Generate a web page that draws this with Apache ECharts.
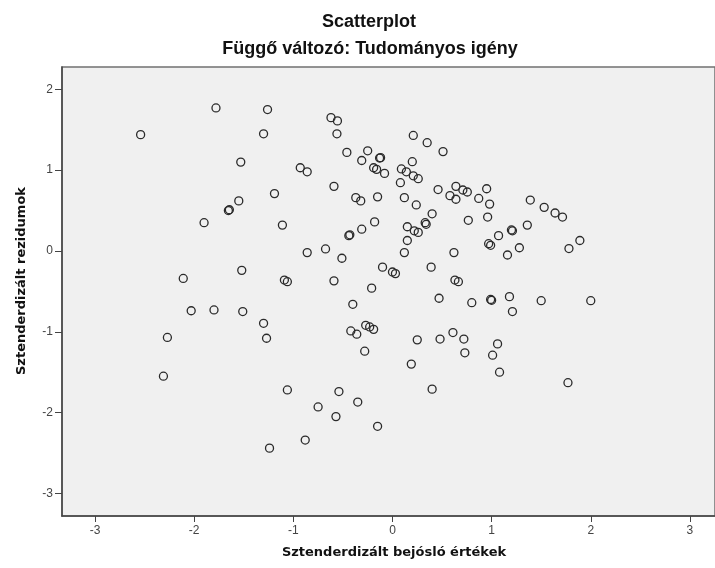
<!DOCTYPE html>
<html>
<head>
<meta charset="utf-8">
<script src="https://cdn.jsdelivr.net/npm/echarts@6/dist/echarts.min.js"></script>
<style>
html,body{margin:0;padding:0;background:#fff;}
#chart{width:715px;height:568px;}
</style>
</head>
<body>
<div id="chart"></div>
<script>
// Chart texts
var chartTitle = "Scatterplot";
var chartSubtitle = "Függő változó: Tudományos igény";
var xAxisName = "Sztenderdizált bejósló értékek";
var yAxisName = "Sztenderdizált rezidumok";

// Tick labels
var xTicks = [-3, -2, -1, 0, 1, 2, 3];
var yTicks = [-3, -2, -1, 0, 1, 2];

// Standardized predicted values (x)
var predicted = [
  -1.78, -1.26, -2.54, -1.30, -0.62, -0.555, -0.56, -0.46, -1.53, -0.93,
  -0.86, -0.59, -1.19, -1.55, -1.645, -1.655, -1.90, -1.11, -0.43, -0.44,
  -0.86, -0.675, -0.51, -2.11, -1.52, -1.09, -1.06, -0.59, 0.21, 0.35,
  0.51, -0.25, -0.31, -0.12, -0.13, 0.20, -0.19, -0.16, -0.08, 0.09,
  0.14, 0.21, 0.26, 0.08, 0.64, 0.46, 0.71, 0.755, 0.95, 0.58,
  0.64, 0.87, 0.98, 0.96, 1.39, 1.53, 1.64, 1.715, -0.37, -0.32,
  -0.15, 0.12, 0.24, 0.40, 0.765, -0.18, -0.31, 0.15, 0.22, 0.26,
  0.33, 0.34, 0.15, 0.12, 0.62, 1.07, 1.20, 1.21, 1.36, 0.97,
  0.99, 1.16, 1.28, 1.78, 1.89, -0.10, 0.00, 0.03, 0.39, -0.21,
  0.63, 0.665, 1.50, 2.00, 1.77, -2.03, -1.80, -1.51, -1.30, -1.27,
  -2.27, -2.31, -1.06, -0.54, -0.75, -0.57, -0.88, -1.24, -0.40, 0.47,
  0.80, 0.99, 1.00, 1.18, 1.21, -0.42, -0.36, -0.27, -0.23, -0.19,
  -0.28, 0.25, 0.48, 0.61, 0.72, 0.73, 1.06, 1.01, 1.08, 0.19,
  0.40, -0.35, -0.15
];

// Standardized residuals (y)
var residuals = [
  1.77, 1.75, 1.44, 1.45, 1.65, 1.61, 1.45, 1.22, 1.10, 1.03,
  0.98, 0.80, 0.71, 0.62, 0.51, 0.50, 0.35, 0.32, 0.20, 0.19,
  -0.02, 0.025, -0.09, -0.34, -0.24, -0.36, -0.38, -0.37, 1.43, 1.34,
  1.23, 1.24, 1.12, 1.155, 1.15, 1.105, 1.03, 1.01, 0.96, 1.015,
  0.98, 0.93, 0.895, 0.845, 0.80, 0.76, 0.755, 0.73, 0.77, 0.685,
  0.64, 0.65, 0.58, 0.42, 0.63, 0.54, 0.47, 0.42, 0.66, 0.62,
  0.67, 0.66, 0.57, 0.46, 0.38, 0.36, 0.27, 0.30, 0.25, 0.23,
  0.35, 0.33, 0.13, -0.02, -0.02, 0.19, 0.26, 0.25, 0.32, 0.09,
  0.07, -0.05, 0.04, 0.03, 0.13, -0.20, -0.26, -0.28, -0.20, -0.46,
  -0.36, -0.38, -0.615, -0.615, -1.63, -0.74, -0.73, -0.75, -0.895, -1.08,
  -1.07, -1.55, -1.72, -1.74, -1.93, -2.05, -2.34, -2.44, -0.66, -0.585,
  -0.64, -0.60, -0.61, -0.565, -0.75, -0.99, -1.03, -0.92, -0.94, -0.97,
  -1.24, -1.10, -1.09, -1.01, -1.09, -1.26, -1.15, -1.29, -1.50, -1.40,
  -1.71, -1.87, -2.17
];

var points = predicted.map(function (x, i) { return [x, residuals[i]]; });

var chart = echarts.init(document.getElementById('chart'), null, {renderer: 'canvas'});
var tickFont = {fontFamily: 'Liberation Sans', fontSize: 12, color: '#444'};

chart.setOption({
  animation: false,
  backgroundColor: '#ffffff',
  title: [
    {text: chartTitle, left: 364, top: 8, textAlign: 'center',
     textStyle: {fontFamily: 'Liberation Sans', fontWeight: 'bold', fontSize: 18, color: '#111'}},
    {text: chartSubtitle, left: 365, top: 35, textAlign: 'center',
     textStyle: {fontFamily: 'Liberation Sans', fontWeight: 'bold', fontSize: 18, color: '#111'}}
  ],
  graphic: [
    {type: 'text', x: 394, y: 553, style: {text: xAxisName, x: 0, y: 0, align: 'center', verticalAlign: 'middle',
      font: 'bold 13px "DejaVu Sans"', fill: '#111'}},
    {type: 'text', x: 22, y: 281, rotation: Math.PI / 2, style: {text: yAxisName, x: 0, y: 0, align: 'center', verticalAlign: 'middle',
      font: 'bold 13px "DejaVu Sans"', fill: '#111'}}
  ],
  grid: {
    left: 62, top: 67, right: -3, bottom: 52,
    show: true, backgroundColor: '#f0f0f0', borderColor: '#707070', borderWidth: 1.5
  },
  xAxis: {
    type: 'value', min: -3.333, max: 3.253,
    splitLine: {show: false},
    axisLine: {show: true, onZero: false, lineStyle: {color: '#444', width: 1.5}},
    axisTick: {show: true, customValues: xTicks, length: 6, lineStyle: {color: '#444'}},
    axisLabel: Object.assign({customValues: xTicks, margin: 9}, tickFont)
  },
  yAxis: {
    type: 'value', min: -3.28, max: 2.277,
    splitLine: {show: false},
    axisLine: {show: true, onZero: false, lineStyle: {color: '#444', width: 1.5}},
    axisTick: {show: true, customValues: yTicks, length: 7, lineStyle: {color: '#444'}},
    axisLabel: Object.assign({customValues: yTicks, margin: 9}, tickFont)
  },
  series: [{
    type: 'scatter',
    data: points,
    symbol: 'circle',
    symbolSize: 8,
    itemStyle: {color: 'rgba(0,0,0,0)', borderColor: '#2a2a2a', borderWidth: 1.3, opacity: 1}
  }]
});
</script>
</body>
</html>
